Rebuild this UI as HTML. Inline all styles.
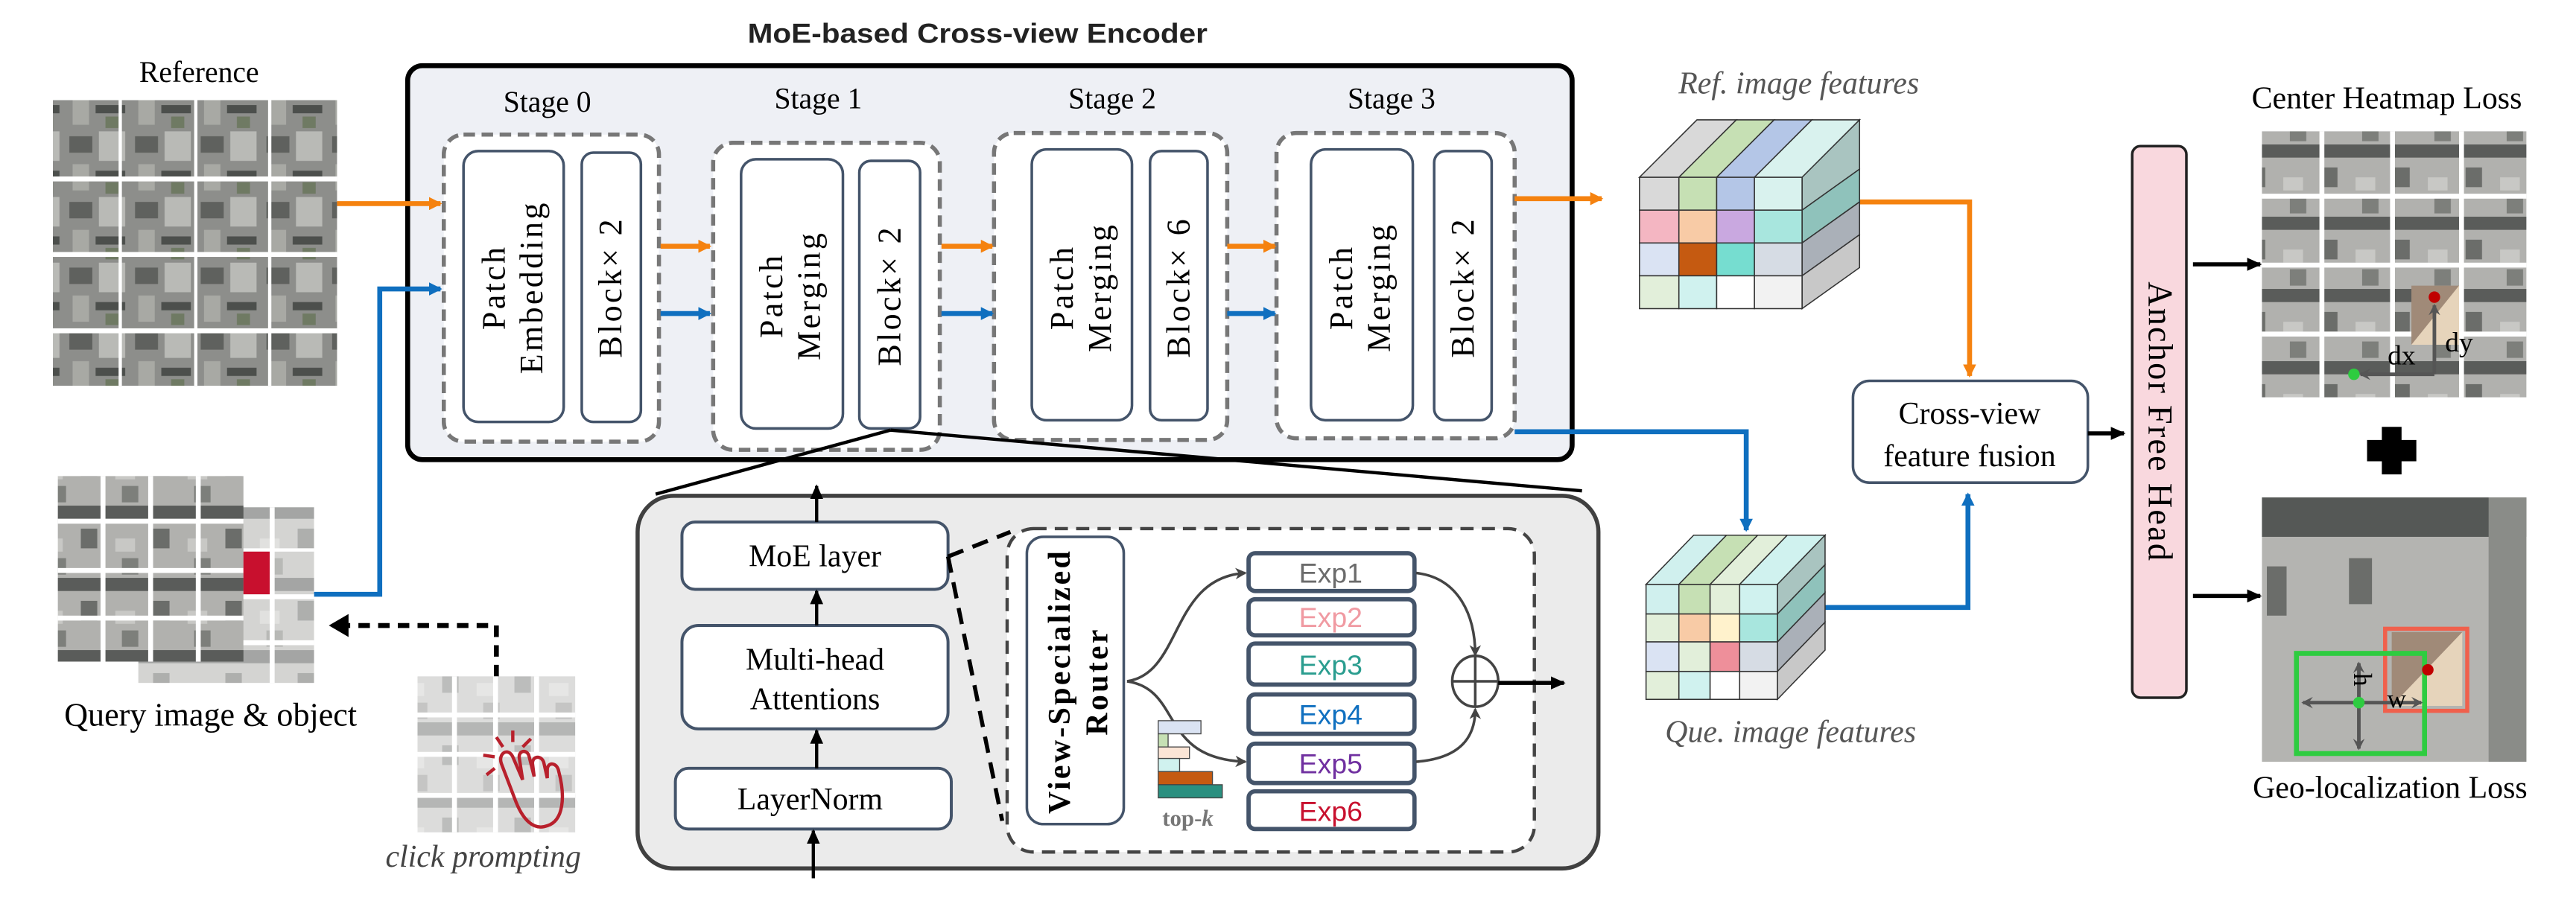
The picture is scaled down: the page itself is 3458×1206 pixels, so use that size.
<!DOCTYPE html>
<html><head><meta charset="utf-8"><style>
html,body{margin:0;padding:0;background:#fff;}
svg{display:block;}
</style></head><body>
<svg width="3458" height="1206" viewBox="0 0 1568 547" xmlns="http://www.w3.org/2000/svg" font-family="Liberation Serif, serif">
<defs>
<pattern id="aer" width="40" height="40" patternUnits="userSpaceOnUse">
<rect width="40" height="40" fill="#8d8e8b"/>
<rect x="2" y="3" width="14" height="10" fill="#5f615e"/>
<rect x="20" y="0" width="16" height="18" fill="#b9bab6"/>
<rect x="4" y="20" width="10" height="16" fill="#a8a9a4"/>
<rect x="18" y="24" width="18" height="5" fill="#4c4f4c"/>
<rect x="24" y="31" width="8" height="7" fill="#6f7a63"/>
</pattern>
<pattern id="aer2" width="44" height="44" patternUnits="userSpaceOnUse">
<rect width="44" height="44" fill="#b1b1ae"/>
<rect x="0" y="0" width="44" height="8" fill="#5a5c5a"/>
<rect x="5" y="14" width="10" height="12" fill="#6b6d6a"/>
<rect x="26" y="20" width="12" height="8" fill="#c8c8c5"/>
<rect x="30" y="32" width="10" height="10" fill="#7d7f7b"/>
</pattern>
<marker id="ao" markerWidth="8" markerHeight="8" refX="7" refY="4" orient="auto" markerUnits="userSpaceOnUse"><path d="M0,0L8,4L0,8z" fill="#f5820f"/></marker>
<marker id="ab" markerWidth="8" markerHeight="8" refX="7" refY="4" orient="auto" markerUnits="userSpaceOnUse"><path d="M0,0L8,4L0,8z" fill="#0f6fbf"/></marker>
<marker id="ak" markerWidth="9" markerHeight="8" refX="8" refY="4" orient="auto" markerUnits="userSpaceOnUse"><path d="M0,0L9,4L0,8z" fill="#000"/></marker>
<marker id="ag" markerWidth="7" markerHeight="7" refX="6" refY="3.5" orient="auto" markerUnits="userSpaceOnUse"><path d="M0,0L7,3.5L0,7L2,3.5z" fill="#444"/></marker>
<marker id="ad" markerWidth="7" markerHeight="7" refX="6" refY="3.5" orient="auto" markerUnits="userSpaceOnUse"><path d="M0,0L7,3.5L0,7L2.5,3.5z" fill="#555"/></marker>
</defs>

<text x="595" y="26" font-family="Liberation Sans, sans-serif" font-weight="bold" font-size="17" text-anchor="middle" textLength="280" lengthAdjust="spacingAndGlyphs" fill="#222">MoE-based Cross-view Encoder</text>

<text x="121" y="50" font-size="18" text-anchor="middle">Reference</text>
<rect x="32" y="61" width="173" height="174" fill="url(#aer)"/>
<g fill="#fff"><rect x="72" y="61" width="2" height="174"/><rect x="118" y="61" width="2" height="174"/><rect x="163" y="61" width="2" height="174"/>
<rect x="32" y="107.5" width="173" height="3"/><rect x="32" y="153.5" width="173" height="3"/><rect x="32" y="200" width="173" height="3"/></g>

<rect x="248" y="40" width="709" height="240" rx="9" fill="#eef0f5" stroke="#000" stroke-width="3"/>
<g font-size="18" text-anchor="middle">
<text x="333" y="68">Stage 0</text><text x="498" y="66">Stage 1</text><text x="677" y="66">Stage 2</text><text x="847" y="66">Stage 3</text></g>
<g fill="#fff" stroke="#777" stroke-width="2.5" stroke-dasharray="7,4">
<rect x="270" y="82" width="131" height="187" rx="12"/>
<rect x="434" y="87" width="138" height="187" rx="12"/>
<rect x="605" y="81" width="142" height="187" rx="12"/>
<rect x="777" y="81" width="145" height="186" rx="12"/>
</g>
<g fill="#fff" stroke="#44546a" stroke-width="1.6">
<rect x="282" y="92" width="61" height="165" rx="9"/><rect x="354" y="93" width="36" height="164" rx="7"/>
<rect x="451" y="97" width="62" height="164" rx="9"/><rect x="523" y="98" width="37" height="163" rx="7"/>
<rect x="628" y="91" width="61" height="165" rx="9"/><rect x="700" y="92" width="35" height="164" rx="7"/>
<rect x="798" y="91" width="62" height="165" rx="9"/><rect x="873" y="92" width="35" height="164" rx="7"/>
</g>
<g font-size="20" text-anchor="middle" letter-spacing="1.5">
<text transform="translate(307,175) rotate(-90)">Patch</text>
<text transform="translate(330,175) rotate(-90)">Embedding</text>
<text transform="translate(378,175) rotate(-90)">Block× 2</text>
<text transform="translate(476,180) rotate(-90)">Patch</text>
<text transform="translate(499,180) rotate(-90)">Merging</text>
<text transform="translate(548,180) rotate(-90)">Block× 2</text>
<text transform="translate(653,175) rotate(-90)">Patch</text>
<text transform="translate(676,175) rotate(-90)">Merging</text>
<text transform="translate(724,175) rotate(-90)">Block× 6</text>
<text transform="translate(823,175) rotate(-90)">Patch</text>
<text transform="translate(846,175) rotate(-90)">Merging</text>
<text transform="translate(897,175) rotate(-90)">Block× 2</text>
</g>

<g stroke="#f5820f" stroke-width="3" fill="none" marker-end="url(#ao)">
<line x1="205" y1="124" x2="268" y2="124"/>
<line x1="402" y1="150" x2="432" y2="150"/>
<line x1="573" y1="150" x2="604" y2="150"/>
<line x1="747" y1="150" x2="776" y2="150"/>
<line x1="922" y1="121" x2="975" y2="121"/>
</g>
<g stroke="#0f6fbf" stroke-width="3" fill="none" marker-end="url(#ab)">
<polyline points="191,362 231,362 231,176 268,176"/>
<line x1="402" y1="191" x2="432" y2="191"/>
<line x1="573" y1="191" x2="604" y2="191"/>
<line x1="747" y1="191" x2="776" y2="191"/>
<polyline points="922,263 1063,263 1063,323"/>
<polyline points="1111,370 1198,370 1198,301"/>
</g>
<polyline points="1132,123 1199,123 1199,229" stroke="#f5820f" stroke-width="3" fill="none" marker-end="url(#ao)"/>

<line x1="542" y1="262" x2="399" y2="301" stroke="#000" stroke-width="2"/>
<line x1="542" y1="262" x2="963" y2="299" stroke="#000" stroke-width="2"/>

<rect x="388" y="302" width="585" height="227" rx="22" fill="#ebebeb" stroke="#404040" stroke-width="2.5"/>
<g fill="#fff" stroke="#44546a" stroke-width="1.8">
<rect x="415" y="318" width="162" height="41" rx="8"/>
<rect x="415" y="381" width="162" height="63" rx="10"/>
<rect x="411" y="468" width="168" height="37" rx="8"/>
</g>
<g font-size="19" text-anchor="middle">
<text x="496" y="345">MoE layer</text>
<text x="496" y="408">Multi-head</text>
<text x="496" y="432">Attentions</text>
<text x="493" y="493">LayerNorm</text>
</g>
<g stroke="#000" stroke-width="2" marker-end="url(#ak)">
<line x1="495" y1="535" x2="495" y2="506"/>
<line x1="497" y1="468" x2="497" y2="445"/>
<line x1="497" y1="381" x2="497" y2="360"/>
<line x1="497" y1="318" x2="497" y2="296"/>
</g>
<rect x="613" y="322" width="321" height="197" rx="16" fill="#fff" stroke="#444" stroke-width="2" stroke-dasharray="8,5"/>
<g stroke="#000" stroke-width="2.5" stroke-dasharray="10,6" fill="none">
<line x1="577" y1="339" x2="615" y2="324"/><line x1="577" y1="339" x2="610" y2="500"/></g>
<rect x="625" y="327" width="59" height="175" rx="10" fill="#fff" stroke="#44546a" stroke-width="1.6"/>
<g font-size="19" font-weight="bold" text-anchor="middle" letter-spacing="1.5">
<text transform="translate(651,415) rotate(-90)">View-Specialized</text>
<text transform="translate(674,415) rotate(-90)">Router</text></g>
<g fill="#fff" stroke="#44546a" stroke-width="2.6">
<rect x="760" y="337" width="101" height="23" rx="4"/>
<rect x="760" y="365" width="101" height="22" rx="4"/>
<rect x="760" y="392" width="101" height="25" rx="4"/>
<rect x="760" y="423" width="101" height="24" rx="4"/>
<rect x="760" y="453" width="101" height="24" rx="4"/>
<rect x="760" y="482" width="101" height="23" rx="4"/>
</g>
<g font-size="17" text-anchor="middle">
<text font-family="Liberation Sans, sans-serif" x="810" y="355" fill="#6b6b6b">Exp1</text>
<text font-family="Liberation Sans, sans-serif" x="810" y="382" fill="#f09aa2">Exp2</text>
<text font-family="Liberation Sans, sans-serif" x="810" y="411" fill="#2a9d8f">Exp3</text>
<text font-family="Liberation Sans, sans-serif" x="810" y="441" fill="#1070c0">Exp4</text>
<text font-family="Liberation Sans, sans-serif" x="810" y="471" fill="#7030a0">Exp5</text>
<text font-family="Liberation Sans, sans-serif" x="810" y="500" fill="#c8102e">Exp6</text>
</g>
<g stroke="#444" stroke-width="1.6" fill="none">
<path d="M686,415 C720,410 712,352 758,349" marker-end="url(#ag)"/>
<path d="M686,415 C720,420 705,462 758,464" marker-end="url(#ag)"/>
<path d="M862,349 C888,352 898,375 898,399" marker-end="url(#ag)"/>
<path d="M862,464 C888,462 898,450 898,432" marker-end="url(#ag)"/>
<ellipse cx="898" cy="415" rx="14" ry="15.5" fill="#fff"/>
<line x1="884" y1="415" x2="912" y2="415"/><line x1="898" y1="400" x2="898" y2="430"/>
</g>
<line x1="912" y1="416" x2="952" y2="416" stroke="#000" stroke-width="2.5" marker-end="url(#ak)"/>
<g stroke="#444" stroke-width="0.6">
<rect x="705" y="439" width="26" height="8" fill="#dae3f3"/>
<rect x="705" y="447" width="6" height="8" fill="#c6e0b4"/>
<rect x="705" y="455" width="19" height="7" fill="#fbe5d6"/>
<rect x="705" y="462" width="13" height="8" fill="#d0f2ef"/>
<rect x="705" y="470" width="33" height="8" fill="#c55a11"/>
<rect x="705" y="478" width="39" height="8" fill="#2a9080"/>
</g>
<text x="723" y="503" font-size="14" font-weight="bold" fill="#777" text-anchor="middle">top-<tspan font-style="italic">k</tspan></text>

<g opacity="0.55"><rect x="84" y="309" width="107" height="107" fill="url(#aer2)"/></g>
<rect x="35" y="290" width="113" height="113" fill="url(#aer2)"/>
<g fill="#fff"><rect x="61" y="290" width="3" height="113"/><rect x="90" y="290" width="3" height="113"/><rect x="119" y="290" width="3" height="113"/>
<rect x="35" y="316" width="113" height="3"/><rect x="35" y="346" width="113" height="3"/><rect x="35" y="375" width="113" height="3"/>
<rect x="164" y="309" width="3" height="107"/><rect x="148" y="334" width="43" height="2"/><rect x="148" y="362" width="43" height="3"/><rect x="148" y="390" width="43" height="3"/></g>
<rect x="148" y="336" width="16" height="26" fill="#c8102e"/>
<text x="128" y="442" font-size="20" text-anchor="middle">Query image &amp; object</text>
<polyline points="302,412 302,381 202,381" stroke="#000" stroke-width="3" stroke-dasharray="7,5" fill="none"/>
<path d="M200,381 L212,374 L212,388z" fill="#000"/>
<g opacity="0.45"><rect x="254" y="412" width="96" height="95" fill="url(#aer2)"/></g>
<g fill="#fff"><rect x="275" y="412" width="3" height="95"/><rect x="300" y="412" width="3" height="95"/><rect x="325" y="412" width="3" height="95"/>
<rect x="254" y="434" width="96" height="3"/><rect x="254" y="458" width="96" height="3"/><rect x="254" y="483" width="96" height="3"/></g>
<path d="M313,486 L305,465 C303,459 309,455 312,461 L318,475 L316,462 C315,457 321,456 322,461 L325,473 L324,465 C324,460 330,460 331,465 L333,474 L333,469 C333,464 339,464 340,470 C344,485 343,500 333,503 C325,506 318,500 313,486z" fill="none" stroke="#b8202c" stroke-width="2"/>
<g stroke="#b8202c" stroke-width="2"><line x1="306" y1="455" x2="302" y2="449"/><line x1="312" y1="452" x2="312" y2="445"/><line x1="318" y1="455" x2="323" y2="450"/><line x1="301" y1="461" x2="294" y2="460"/><line x1="301" y1="468" x2="296" y2="472"/></g>
<text x="294" y="528" font-size="19" font-style="italic" fill="#444" text-anchor="middle">click prompting</text>

<text x="1095" y="57" font-size="19" font-style="italic" fill="#555" text-anchor="middle">Ref. image features</text>
<g stroke="#333" stroke-width="0.7">
<polygon points="998,108 1022,108 1057,73 1033,73" fill="#d9d9d9"/>
<polygon points="1022,108 1045,108 1080,73 1057,73" fill="#c6e0b4"/>
<polygon points="1045,108 1068,108 1103,73 1080,73" fill="#b4c6e7"/>
<polygon points="1068,108 1097,108 1132,73 1103,73" fill="#d9f2ee"/>
<polygon points="1097,108 1132,73 1132,103 1097,128" fill="#a9c4c0"/>
<polygon points="1097,128 1132,103 1132,123 1097,148" fill="#8fc2bb"/>
<polygon points="1097,148 1132,123 1132,143 1097,168" fill="#aab0b8"/>
<polygon points="1097,168 1132,143 1132,163 1097,188" fill="#c8c8c8"/>
<rect x="998" y="108" width="24" height="20" fill="#d9d9d9"/><rect x="1022" y="108" width="23" height="20" fill="#c6e0b4"/><rect x="1045" y="108" width="23" height="20" fill="#b4c6e7"/><rect x="1068" y="108" width="29" height="20" fill="#d9f2ee"/>
<rect x="998" y="128" width="24" height="20" fill="#f4b6c2"/><rect x="1022" y="128" width="23" height="20" fill="#f8cba6"/><rect x="1045" y="128" width="23" height="20" fill="#c9a8e0"/><rect x="1068" y="128" width="29" height="20" fill="#a8e6de"/>
<rect x="998" y="148" width="24" height="20" fill="#dae3f3"/><rect x="1022" y="148" width="23" height="20" fill="#c55a11"/><rect x="1045" y="148" width="23" height="20" fill="#76ddd0"/><rect x="1068" y="148" width="29" height="20" fill="#d6dce4"/>
<rect x="998" y="168" width="24" height="20" fill="#e2efda"/><rect x="1022" y="168" width="23" height="20" fill="#d0f2ef"/><rect x="1045" y="168" width="23" height="20" fill="#fff"/><rect x="1068" y="168" width="29" height="20" fill="#f2f2f2"/>
</g>

<g stroke="#333" stroke-width="0.7">
<polygon points="1002,356 1022,356 1051,326 1031,326" fill="#d0f0ee"/>
<polygon points="1022,356 1041,356 1070,326 1051,326" fill="#c6e0b4"/>
<polygon points="1041,356 1059,356 1088,326 1070,326" fill="#e2efda"/>
<polygon points="1059,356 1082,356 1111,326 1088,326" fill="#d0f2ef"/>
<polygon points="1082,356 1111,326 1111,344 1082,374" fill="#a9c4c0"/>
<polygon points="1082,374 1111,344 1111,361 1082,391" fill="#8fc2bb"/>
<polygon points="1082,391 1111,361 1111,379 1082,409" fill="#aab0b8"/>
<polygon points="1082,409 1111,379 1111,396 1082,426" fill="#c8c8c8"/>
<rect x="1002" y="356" width="20" height="18" fill="#d0f0ee"/><rect x="1022" y="356" width="19" height="18" fill="#c6e0b4"/><rect x="1041" y="356" width="18" height="18" fill="#e2efda"/><rect x="1059" y="356" width="23" height="18" fill="#d0f2ef"/>
<rect x="1002" y="374" width="20" height="17" fill="#e2efda"/><rect x="1022" y="374" width="19" height="17" fill="#f8cba6"/><rect x="1041" y="374" width="18" height="17" fill="#fff2cc"/><rect x="1059" y="374" width="23" height="17" fill="#a8e6de"/>
<rect x="1002" y="391" width="20" height="18" fill="#dae3f3"/><rect x="1022" y="391" width="19" height="18" fill="#e2efda"/><rect x="1041" y="391" width="18" height="18" fill="#ee8f9a"/><rect x="1059" y="391" width="23" height="18" fill="#d6dce4"/>
<rect x="1002" y="409" width="20" height="17" fill="#e2efda"/><rect x="1022" y="409" width="19" height="17" fill="#d0f2ef"/><rect x="1041" y="409" width="18" height="17" fill="#fff"/><rect x="1059" y="409" width="23" height="17" fill="#f2f2f2"/>
</g>
<text x="1090" y="452" font-size="19" font-style="italic" fill="#555" text-anchor="middle">Que. image features</text>

<rect x="1128" y="232" width="143" height="62" rx="10" fill="#fff" stroke="#44546a" stroke-width="1.6"/>
<text x="1199" y="258" font-size="19" text-anchor="middle">Cross-view</text>
<text x="1199" y="284" font-size="19" text-anchor="middle">feature fusion</text>
<line x1="1271" y1="264" x2="1293" y2="264" stroke="#000" stroke-width="2.5" marker-end="url(#ak)"/>

<rect x="1298" y="89" width="33" height="336" rx="5" fill="#f9d8de" stroke="#222" stroke-width="1.6"/>
<text transform="translate(1308,257) rotate(90)" font-size="21" text-anchor="middle" letter-spacing="1">Anchor Free Head</text>
<g stroke="#000" stroke-width="2.5" marker-end="url(#ak)">
<line x1="1335" y1="161" x2="1376" y2="161"/><line x1="1335" y1="363" x2="1376" y2="363"/></g>

<text x="1453" y="66" font-size="19" text-anchor="middle">Center Heatmap Loss</text>
<rect x="1377" y="80" width="161" height="162" fill="url(#aer2)"/>
<g fill="#fff"><rect x="1412" y="80" width="3" height="162"/><rect x="1455" y="80" width="3" height="162"/><rect x="1497" y="80" width="3" height="162"/>
<rect x="1377" y="118" width="161" height="3"/><rect x="1377" y="160" width="161" height="3"/><rect x="1377" y="202" width="161" height="3"/></g>
<polygon points="1468,174 1497,174 1497,210 1468,210" fill="#a08a78"/>
<polygon points="1468,210 1497,174 1497,210" fill="#e6d4bb"/>
<g stroke="#555" stroke-width="2.2" fill="none">
<line x1="1482" y1="228" x2="1482" y2="186" marker-end="url(#ad)"/>
<line x1="1482" y1="228" x2="1437" y2="228" marker-end="url(#ad)"/></g>
<circle cx="1482" cy="181" r="3.5" fill="#c00000"/>
<circle cx="1433" cy="228" r="3.5" fill="#2ecc40"/>
<text x="1462" y="222" font-size="17" text-anchor="middle">dx</text>
<text x="1497" y="214" font-size="17" text-anchor="middle">dy</text>
<path d="M1450,260 h12 v8 h9 v13 h-9 v8 h-12 v-8 h-9 v-13 h9z" fill="#000"/>

<rect x="1377" y="303" width="161" height="161" fill="#b4b4b1"/>
<rect x="1377" y="303" width="161" height="24" fill="#555856"/>
<rect x="1515" y="303" width="23" height="161" fill="#8a8c88"/>
<rect x="1380" y="345" width="12" height="30" fill="#6b6d6a"/>
<rect x="1430" y="340" width="14" height="28" fill="#6b6d6a"/>
<polygon points="1456,385 1499,385 1499,430 1456,430" fill="#a08a78"/>
<polygon points="1456,430 1499,385 1499,430" fill="#e6d4bb"/>
<rect x="1452" y="383" width="50" height="50" fill="none" stroke="#f0604c" stroke-width="2.5"/>
<rect x="1398" y="398" width="78" height="61" fill="none" stroke="#2ecc40" stroke-width="3"/>
<g stroke="#555" stroke-width="2.2" fill="none">
<line x1="1436" y1="428" x2="1436" y2="404" marker-end="url(#ad)"/>
<line x1="1436" y1="428" x2="1436" y2="456" marker-end="url(#ad)"/>
<line x1="1436" y1="428" x2="1402" y2="428" marker-end="url(#ad)"/>
<line x1="1436" y1="428" x2="1474" y2="428" marker-end="url(#ad)"/></g>
<circle cx="1436" cy="428" r="3.5" fill="#2ecc40"/>
<circle cx="1478" cy="408" r="3.5" fill="#c00000"/>
<text transform="translate(1433,414) rotate(90)" font-size="16" text-anchor="middle">h</text>
<text x="1459" y="431" font-size="16" text-anchor="middle">w</text>
<text x="1455" y="486" font-size="19" text-anchor="middle">Geo-localization Loss</text>
</svg>
</body></html>
